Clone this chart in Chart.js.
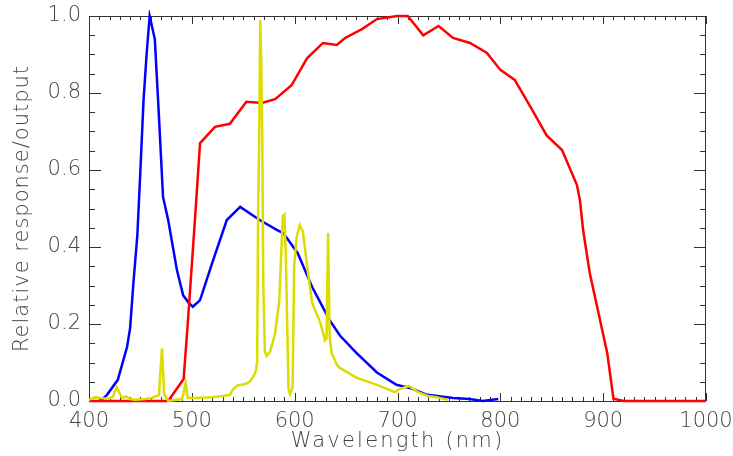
<!DOCTYPE html>
<html>
<head>
<meta charset="utf-8">
<script src="https://cdn.jsdelivr.net/npm/chart.js@4"></script>
<style>
  html, body { margin: 0; padding: 0; background: #fff; }
  #wrap { width: 733px; height: 456px; }
</style>
</head>
<body>
<div id="wrap"><canvas id="chart" width="733" height="456"></canvas></div>
<script>
// blue response curve
const blueNm  = [411, 417.5, 428, 437, 440, 443, 447, 450, 453, 456, 459, 464, 468, 472, 477, 485.5, 491.5, 497, 501, 508, 520, 534, 547, 566, 583, 589, 603, 617, 634, 644, 660, 680, 699, 712, 729, 754, 770, 783, 798];
const blueVal = [0.0, 0.016, 0.055, 0.14, 0.19, 0.3, 0.43, 0.6, 0.78, 0.9, 1.0, 0.94, 0.74, 0.53, 0.47, 0.34, 0.275, 0.255, 0.245, 0.262, 0.36, 0.47, 0.504, 0.47, 0.444, 0.436, 0.384, 0.296, 0.21, 0.17, 0.125, 0.074, 0.042, 0.034, 0.016, 0.008, 0.005, 0.0, 0.005];

// red response curve
const redNm  = [400, 477, 492, 496, 503, 508, 522.5, 537, 553, 568, 581, 597, 612, 627.5, 641, 649, 665.5, 680, 699.5, 710, 725, 740, 754, 770.5, 787, 800, 814, 831, 845, 860, 874.5, 877.5, 880.5, 887, 904, 910, 920, 1000];
const redVal = [0.0, 0.0, 0.057, 0.2, 0.47, 0.67, 0.712, 0.72, 0.777, 0.774, 0.784, 0.82, 0.89, 0.93, 0.925, 0.943, 0.966, 0.992, 1.0, 1.0, 0.95, 0.974, 0.943, 0.93, 0.904, 0.86, 0.834, 0.756, 0.69, 0.652, 0.561, 0.52, 0.444, 0.332, 0.124, 0.006, 0.0, 0.0];

// yellow output spectrum
const yellowNm  = [400, 406, 411, 418, 423, 427, 432, 436, 440, 445, 455, 461, 468, 471, 473, 477, 485, 490.5, 494, 496, 503, 520, 530, 537, 540, 544, 552, 556, 559, 562, 563.5, 564.5, 565.5, 566.5, 567.5, 568.5, 569.5, 571, 572.5, 576, 581, 585, 588.5, 590, 591.5, 594, 595.5, 598, 599.5, 602, 605, 608, 613, 617, 625, 629.5, 631, 632.5, 634, 636, 641, 644, 654, 660.5, 680, 697.5, 702, 711, 720, 729.5, 738, 749];
const yellowVal = [0.003, 0.01, 0.008, 0.006, 0.01, 0.036, 0.008, 0.012, 0.005, 0.003, 0.005, 0.008, 0.015, 0.137, 0.02, 0.0, 0.003, 0.005, 0.047, 0.008, 0.008, 0.01, 0.013, 0.016, 0.03, 0.04, 0.044, 0.05, 0.06, 0.075, 0.1, 0.5, 0.68, 0.99, 0.88, 0.68, 0.3, 0.13, 0.117, 0.127, 0.176, 0.26, 0.48, 0.484, 0.366, 0.03, 0.018, 0.037, 0.35, 0.427, 0.457, 0.44, 0.332, 0.254, 0.203, 0.158, 0.163, 0.436, 0.167, 0.124, 0.094, 0.086, 0.07, 0.06, 0.042, 0.023, 0.031, 0.039, 0.023, 0.013, 0.01, 0.003];

const xTickValues = [400, 500, 600, 700, 800, 900, 1000];
const yTickValues = [0.0, 0.2, 0.4, 0.6, 0.8, 1.0];
const xTitle = 'Wavelength (nm)';
const yTitle = 'Relative response/output';

const toPoints = (xs, ys) => xs.map((x, i) => ({x: x, y: ys[i]}));

const FONT = "'DejaVu Sans', sans-serif";
const TEXT = '#444';
const AXIS = '#333';

// IDL-style box with inward ticks on all four sides
const boxTicks = {
    id: 'boxTicks',
    beforeDatasetsDraw(c) {
        const {ctx, chartArea: a, scales: {x, y}} = c;
        ctx.save();
        ctx.strokeStyle = AXIS;
        ctx.lineWidth = 1;
        ctx.strokeRect(a.left + 0.5, a.top + 0.5, a.right - a.left - 1, a.bottom - a.top);
        ctx.beginPath();
        for (let v = 400; v <= 1000; v += 10) {
            const px = Math.round(x.getPixelForValue(v)) + 0.5;
            const len = v % 100 === 0 ? 8 : 4;
            ctx.moveTo(px, a.bottom); ctx.lineTo(px, a.bottom - len);
            ctx.moveTo(px, a.top); ctx.lineTo(px, a.top + len);
        }
        for (let i = 0; i <= 20; i++) {
            const py = Math.round(y.getPixelForValue(i * 0.05)) + 0.5;
            const len = i % 4 === 0 ? 12 : 6;
            ctx.moveTo(a.left, py); ctx.lineTo(a.left + len, py);
            ctx.moveTo(a.right, py); ctx.lineTo(a.right - len, py);
        }
        ctx.stroke();
        ctx.restore();
    },
    // axis titles, spaced out like the old vector font
    afterDraw(c) {
        const {ctx, chartArea: a} = c;
        ctx.save();
        ctx.fillStyle = TEXT;
        ctx.font = '200 21px ' + FONT;
        ctx.textAlign = 'center';
        ctx.textBaseline = 'alphabetic';
        ctx.letterSpacing = '2.2px';
        ctx.fillText(xTitle, (a.left + a.right) / 2, 447);
        ctx.letterSpacing = '1px';
        ctx.translate(28, (a.top + a.bottom) / 2);
        ctx.rotate(-Math.PI / 2);
        ctx.fillText(yTitle, 0, 0);
        ctx.restore();
    }
};

const line = (data, color, order) => ({
    data: data,
    borderColor: color,
    backgroundColor: color,
    borderWidth: 2.5,
    pointRadius: 0,
    tension: 0,
    fill: false,
    clip: 6,
    order: order
});

new Chart(document.getElementById('chart').getContext('2d'), {
    type: 'line',
    data: {
        datasets: [
            line(toPoints(yellowNm, yellowVal), '#dcdc00', 1),
            line(toPoints(redNm, redVal), '#ff0000', 2),
            line(toPoints(blueNm, blueVal), '#0000ff', 3)
        ]
    },
    options: {
        responsive: false,
        animation: false,
        events: [],
        layout: { padding: { top: 16, right: 27, left: 0, bottom: 0 } },
        plugins: { legend: { display: false }, tooltip: { enabled: false } },
        scales: {
            x: {
                type: 'linear',
                min: 400, max: 1000,
                afterBuildTicks: s => { s.ticks = xTickValues.map(v => ({value: v})); },
                afterFit: s => { s.height = 55; s.paddingLeft = 0; s.paddingRight = 0; },
                grid: { display: false, drawTicks: false },
                border: { display: false },
                ticks: { padding: 8, maxRotation: 0, autoSkip: false, color: TEXT, font: { family: FONT, size: 21, weight: 200 }, callback: v => String(v) },
                title: { display: false }
            },
            y: {
                min: 0, max: 1,
                afterBuildTicks: s => { s.ticks = yTickValues.map(v => ({value: v})); },
                afterFit: s => { s.width = 89; s.paddingTop = 0; s.paddingBottom = 0; },
                grid: { display: false, drawTicks: false },
                border: { display: false },
                ticks: { padding: 8, color: TEXT, font: { family: FONT, size: 21, weight: 200 }, callback: v => v.toFixed(1) },
                title: { display: false }
            }
        }
    },
    plugins: [boxTicks]
});
</script>
</body>
</html>
